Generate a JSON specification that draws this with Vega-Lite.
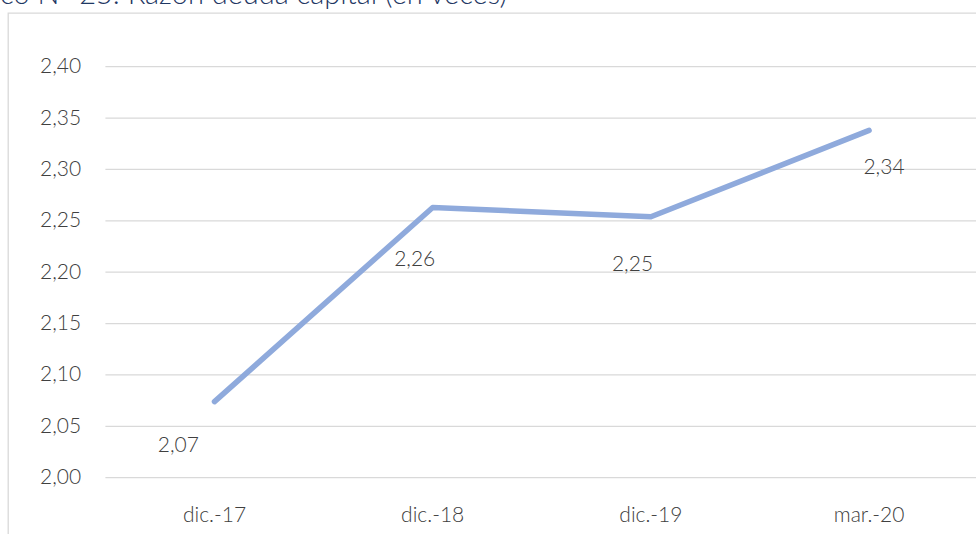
{
  "$schema": "https://vega.github.io/schema/vega-lite/v6.json",
  "width": 968,
  "height": 521,
  "autosize": {"type": "none"},
  "padding": {"left": 8, "top": 13, "right": 0, "bottom": 0},
  "background": "white",
  "title": {
    "text": "co N° 25: Razón deuda capital (en veces)",
    "anchor": "start",
    "frame": "group",
    "orient": "top",
    "dx": -8,
    "dy": 20,
    "offset": 0,
    "baseline": "alphabetic",
    "font": "Lato",
    "fontWeight": 300,
    "fontSize": 29,
    "color": "#1F3864"
  },
  "datasets": {
    "serie": [
      {"periodo": "dic.-17", "valor": 2.074},
      {"periodo": "dic.-18", "valor": 2.263},
      {"periodo": "dic.-19", "valor": 2.254},
      {"periodo": "mar.-20", "valor": 2.338}
    ],
    "ticks": [
      {"valor": 2.0}, {"valor": 2.05}, {"valor": 2.1}, {"valor": 2.15}, {"valor": 2.2},
      {"valor": 2.25}, {"valor": 2.3}, {"valor": 2.35}, {"valor": 2.4}
    ]
  },
  "encoding": {
    "x": {
      "field": "periodo", "type": "nominal", "sort": null,
      "scale": {"domain": ["dic.-17", "dic.-18", "dic.-19", "mar.-20"], "range": [97.4, 970.2], "paddingInner": 0, "paddingOuter": 0},
      "axis": {"title": null}
    },
    "y": {
      "field": "valor", "type": "quantitative",
      "scale": {"domain": [2.0, 2.4], "range": [464.7, 53.7], "nice": false, "zero": false},
      "axis": {"title": null, "values": [2.0, 2.05, 2.1, 2.15, 2.2, 2.25, 2.3, 2.35, 2.4], "format": ".2f"}
    }
  },
  "layer": [
    {
      "data": {"name": "ticks"},
      "mark": {"type": "rule", "color": "#D9D9D9", "strokeWidth": 1.3},
      "encoding": {
        "x": {"datum": "dic.-17", "bandPosition": 0, "axis": {"title": null}},
        "x2": {"datum": "mar.-20", "bandPosition": 1}
      }
    },
    {
      "data": {"name": "serie"},
      "mark": {"type": "line", "color": "#8FAADC", "strokeWidth": 5.5, "strokeCap": "round", "strokeJoin": "round"}
    },
    {
      "data": {"name": "serie"},
      "transform": [{"filter": "datum.periodo == 'dic.-17'"}],
      "mark": {"type": "text", "align": "center", "baseline": "alphabetic", "dx": -36.2, "dy": 50, "font": "Lato", "fontWeight": 300, "fontSize": 21, "color": "#404040"},
      "encoding": {"text": {"field": "valor", "type": "quantitative", "format": ".2f"}}
    },
    {
      "data": {"name": "serie"},
      "transform": [{"filter": "datum.periodo == 'dic.-18'"}],
      "mark": {"type": "text", "align": "center", "baseline": "alphabetic", "dx": -18, "dy": 58.4, "font": "Lato", "fontWeight": 300, "fontSize": 21, "color": "#404040"},
      "encoding": {"text": {"field": "valor", "type": "quantitative", "format": ".2f"}}
    },
    {
      "data": {"name": "serie"},
      "transform": [{"filter": "datum.periodo == 'dic.-19'"}],
      "mark": {"type": "text", "align": "center", "baseline": "alphabetic", "dx": -18.4, "dy": 54.6, "font": "Lato", "fontWeight": 300, "fontSize": 21, "color": "#404040"},
      "encoding": {"text": {"field": "valor", "type": "quantitative", "format": ".2f"}}
    },
    {
      "data": {"name": "serie"},
      "transform": [{"filter": "datum.periodo == 'mar.-20'"}],
      "mark": {"type": "text", "align": "center", "baseline": "alphabetic", "dx": 14.9, "dy": 44, "font": "Lato", "fontWeight": 300, "fontSize": 21, "color": "#404040"},
      "encoding": {"text": {"field": "valor", "type": "quantitative", "format": ".2f"}}
    }
  ],
  "config": {
    "locale": {
      "number": {"decimal": ",", "thousands": ".", "grouping": [3], "currency": ["", " €"]}
    },
    "view": {"stroke": "#D9D9D9", "strokeWidth": 1.3, "strokeDash": [968, 1489, 521, 0]},
    "axisX": {"orient": "bottom", "offset": -56.3, "domain": false, "ticks": false, "grid": false, "labelAngle": 0, "labelPadding": 27, "labelFont": "Lato", "labelFontWeight": 300, "labelFontSize": 21, "labelColor": "#404040"},
    "axisY": {"orient": "left", "offset": -97.4, "domain": false, "ticks": false, "grid": false, "labelPadding": 24.7, "labelFont": "Lato", "labelFontWeight": 300, "labelFontSize": 21, "labelColor": "#404040"}
  }
}
